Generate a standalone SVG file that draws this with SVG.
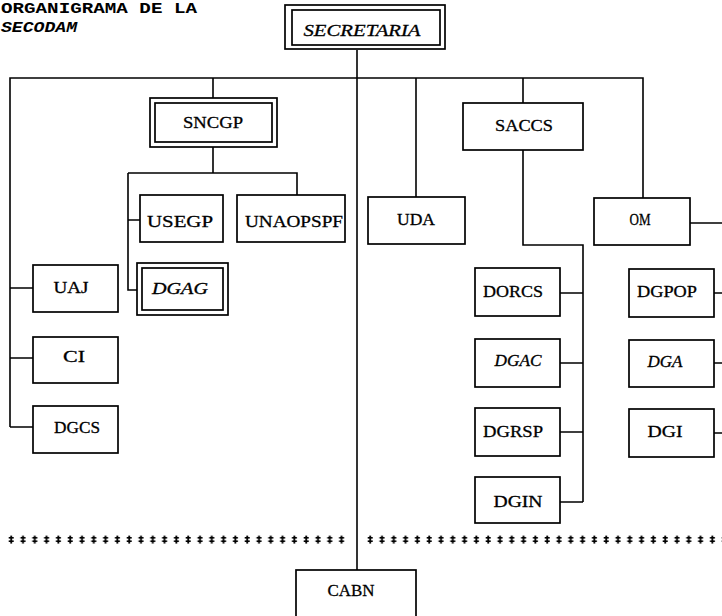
<svg xmlns="http://www.w3.org/2000/svg" width="722" height="616" viewBox="0 0 722 616">
<style>
.box{fill:#fff;stroke:#000;stroke-width:1.7}
.ln{fill:none;stroke:#000;stroke-width:1.6}
text{font-family:"Liberation Serif","Times New Roman",serif;font-size:17px;fill:#000;text-anchor:middle;stroke:#000;stroke-width:0.3}
.it{font-style:italic}
.ttl{text-anchor:start;font-size:15px;font-family:"Liberation Mono","Courier New",monospace;font-weight:bold;stroke:none}
</style>
<defs>
<pattern id="dotsL" patternUnits="userSpaceOnUse" x="8" y="535" width="11.8" height="10">
<rect x="2.3" y="0.6" width="1.8" height="8" fill="#000"/>
<rect x="0.7" y="2" width="5" height="1.6" fill="#000"/>
<rect x="0.7" y="5.4" width="5" height="1.6" fill="#000"/>
</pattern>
<pattern id="dotsR" href="#dotsL" x="367"/>
</defs>
<rect width="722" height="616" fill="#fff"/>
<g id="title">
<text class="ttl" x="1" y="13" textLength="196" lengthAdjust="spacingAndGlyphs">ORGANIGRAMA DE LA</text>
<text class="ttl it" x="1" y="32" textLength="76" lengthAdjust="spacingAndGlyphs">SECODAM</text>
</g>
<g id="connectors">
<path class="ln" d="M357 50V570"/>
<path class="ln" d="M10 427V78H643V198"/>
<path class="ln" d="M10 288H33M10 358H33M10 427H33"/>
<path class="ln" d="M213 78V98M213 147V173M128 173H297V195M128 173V290H137M128 220H140"/>
<path class="ln" d="M416 78V197"/>
<path class="ln" d="M523 78V103M523 150V245H583V502M560 293H583M560 363H583M560 432H583M560 502H583"/>
<path class="ln" d="M690 223H722M714 293H722M714 363H722M714 433H722"/>
</g>
<g id="separator">
<rect x="8" y="535" width="341" height="10" fill="url(#dotsL)"/>
<rect x="367" y="535" width="355" height="10" fill="url(#dotsR)"/>
</g>
<g id="SECRETARIA">
<rect class="box" x="285" y="5" width="160" height="44"/>
<rect class="box" x="292" y="10" width="148" height="35"/>
<text class="it" x="362" y="36" font-size="18" textLength="117" lengthAdjust="spacingAndGlyphs">SECRETARIA</text>
</g>
<g id="SNCGP">
<rect class="box" x="150" y="98" width="127" height="49"/>
<rect class="box" x="155" y="103" width="117" height="39"/>
<text x="213" y="128" textLength="60" lengthAdjust="spacingAndGlyphs">SNCGP</text>
</g>
<g id="USEGP">
<rect class="box" x="140" y="195" width="83" height="47"/>
<text x="180" y="227" textLength="66" lengthAdjust="spacingAndGlyphs">USEGP</text>
</g>
<g id="UNAOPSPF">
<rect class="box" x="237" y="195" width="108" height="47"/>
<text x="294" y="227" textLength="98" lengthAdjust="spacingAndGlyphs">UNAOPSPF</text>
</g>
<g id="DGAG">
<rect class="box" x="137" y="263" width="91" height="52"/>
<rect class="box" x="142" y="268" width="81" height="42"/>
<text class="it" x="180" y="294" textLength="56" lengthAdjust="spacingAndGlyphs">DGAG</text>
</g>
<g id="UAJ">
<rect class="box" x="33" y="265" width="85" height="47"/>
<text x="71" y="293" textLength="35" lengthAdjust="spacingAndGlyphs">UAJ</text>
</g>
<g id="CI">
<rect class="box" x="33" y="337" width="85" height="46"/>
<text x="74" y="362" textLength="22" lengthAdjust="spacingAndGlyphs">CI</text>
</g>
<g id="DGCS">
<rect class="box" x="33" y="406" width="85" height="47"/>
<text x="77" y="433" textLength="46" lengthAdjust="spacingAndGlyphs">DGCS</text>
</g>
<g id="UDA">
<rect class="box" x="368" y="197" width="97" height="47"/>
<text x="416" y="225" textLength="38" lengthAdjust="spacingAndGlyphs">UDA</text>
</g>
<g id="SACCS">
<rect class="box" x="463" y="103" width="120" height="47"/>
<text x="524" y="131" textLength="58" lengthAdjust="spacingAndGlyphs">SACCS</text>
</g>
<g id="OM">
<rect class="box" x="594" y="198" width="96" height="47"/>
<text x="640" y="225" textLength="21" lengthAdjust="spacingAndGlyphs">OM</text>
</g>
<g id="DORCS">
<rect class="box" x="475" y="268" width="85" height="48"/>
<text x="513" y="297" textLength="60" lengthAdjust="spacingAndGlyphs">DORCS</text>
</g>
<g id="DGAC">
<rect class="box" x="475" y="339" width="85" height="48"/>
<text class="it" x="518" y="366" textLength="47" lengthAdjust="spacingAndGlyphs">DGAC</text>
</g>
<g id="DGRSP">
<rect class="box" x="475" y="408" width="85" height="48"/>
<text x="513" y="437" textLength="60" lengthAdjust="spacingAndGlyphs">DGRSP</text>
</g>
<g id="DGIN">
<rect class="box" x="475" y="477" width="85" height="46"/>
<text x="518" y="507" textLength="49" lengthAdjust="spacingAndGlyphs">DGIN</text>
</g>
<g id="DGPOP">
<rect class="box" x="629" y="269" width="85" height="48"/>
<text x="667" y="297" textLength="60" lengthAdjust="spacingAndGlyphs">DGPOP</text>
</g>
<g id="DGA">
<rect class="box" x="629" y="340" width="85" height="47"/>
<text class="it" x="665" y="367" textLength="35" lengthAdjust="spacingAndGlyphs">DGA</text>
</g>
<g id="DGI">
<rect class="box" x="629" y="409" width="85" height="48"/>
<text x="665" y="437" textLength="35" lengthAdjust="spacingAndGlyphs">DGI</text>
</g>
<g id="CABN">
<rect class="box" x="296" y="570" width="120" height="60"/>
<text x="351" y="596" textLength="47" lengthAdjust="spacingAndGlyphs">CABN</text>
</g>
</svg>
